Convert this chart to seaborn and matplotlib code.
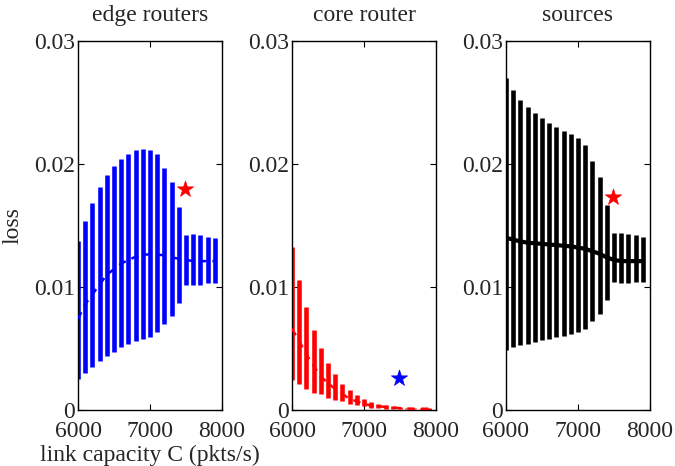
import numpy as np
import pandas as pd
import matplotlib
matplotlib.use("Agg")
import matplotlib.pyplot as plt
import seaborn as sns

sns.set_style("white")
plt.rcParams['font.family'] = ['Liberation Serif', 'DejaVu Serif']
plt.rcParams['mathtext.fontset'] = 'stix'

capacity = [6000, 6100, 6200, 6300, 6400, 6500, 6600, 6700, 6800, 6900,
            7000, 7100, 7200, 7300, 7400, 7500, 7600, 7700, 7800, 7900]

edge_mean = [0.0074, 0.0086, 0.0094, 0.0102, 0.0110, 0.01145, 0.0119, 0.0122, 0.01245, 0.0126,
             0.01267, 0.0126, 0.0126, 0.0124, 0.0123, 0.0122, 0.0121, 0.0121, 0.0121, 0.0121]
edge_lo = [0.0025, 0.0030, 0.0035, 0.0040, 0.0044, 0.0047, 0.0051, 0.0054, 0.0056, 0.0058,
           0.0059, 0.0063, 0.0070, 0.0076, 0.0087, 0.0102, 0.0102, 0.0102, 0.0103, 0.0103]
edge_hi = [0.01375, 0.0154, 0.0168, 0.0181, 0.0191, 0.0198, 0.0204, 0.0208, 0.0211, 0.0212,
           0.0211, 0.0208, 0.0197, 0.0185, 0.0165, 0.0142, 0.0143, 0.0142, 0.0141, 0.0140]

core_mean = [0.0066, 0.0056, 0.0045, 0.0036, 0.0027, 0.0022, 0.0017, 0.0013, 0.0009, 0.0007,
             0.0005, 0.00035, 0.0003, 0.00025, 0.0002, 0.00015, 0.00012, 0.0001, 0.0001, 0.0001]
core_lo = [0.0024, 0.0021, 0.0017, 0.0014, 0.0013, 0.0010, 0.0008, 0.0007, 0.0005, 0.0004,
           0.0003, 0.0002, 0.00016, 0.0001, 0.00008, 0.00005, 0.00004, 0.00004, 0.00003, 0.00003]
core_hi = [0.01325, 0.0106, 0.0084, 0.0065, 0.0050, 0.0038, 0.0029, 0.0021, 0.0016, 0.0012,
           0.0009, 0.00065, 0.0005, 0.00043, 0.0003, 0.00027, 0.0002, 0.0002, 0.00013, 0.00018]

src_mean = [0.0140, 0.01385, 0.0137, 0.0136, 0.01355, 0.0135, 0.01345, 0.0134, 0.01335, 0.0133,
            0.0132, 0.0131, 0.0129, 0.0127, 0.0124, 0.0122, 0.0121, 0.0121, 0.0121, 0.0121]
src_lo = [0.0049, 0.0051, 0.0053, 0.0054, 0.0055, 0.0057, 0.0058, 0.0059, 0.0060, 0.0062,
          0.0063, 0.0066, 0.0072, 0.0078, 0.0089, 0.0104, 0.0103, 0.0103, 0.0104, 0.0104]
src_hi = [0.0270, 0.0260, 0.0252, 0.0246, 0.0241, 0.0237, 0.0233, 0.0230, 0.0227, 0.0224,
          0.0221, 0.0215, 0.0202, 0.0189, 0.0167, 0.0144, 0.0144, 0.0143, 0.0142, 0.0141]

titles = ["edge routers", "core router", "sources"]
colors = ["#0000ff", "#ff0000", "#000000"]
star_colors = ["#ff0000", "#0000ff", "#ff0000"]
star_x = [7480, 7490, 7490]
star_y = [0.0180, 0.0026, 0.0173]
line_styles = [(0, (3, 2.5)), (0, (3, 2.5)), "-"]
line_widths = [1.8, 1.8, 3.0]

yticks = [0, 0.01, 0.02, 0.03]
yticklabels = ["0", "0.01", "0.02", "0.03"]
xticks = [6000, 7000, 8000]
xticklabels = ["6000", "7000", "8000"]

means = [edge_mean, core_mean, src_mean]
los = [edge_lo, core_lo, src_lo]
his = [edge_hi, core_hi, src_hi]

fig = plt.figure(figsize=(6.75, 4.66), dpi=100)
lefts = [0.1156, 0.4326, 0.7496]
bottom, height, width = 0.1202, 0.792, 0.2133
FS = 17

for i in range(3):
    ax = fig.add_axes([lefts[i], bottom, width, height])
    df = pd.DataFrame({"C": capacity, "mean": means[i], "lo": los[i], "hi": his[i]})
    ax.vlines(df["C"], df["lo"], df["hi"], colors=colors[i], linewidth=3.3, zorder=2)
    sns.lineplot(data=df, x="C", y="mean", ax=ax, color=colors[i],
                 linestyle=line_styles[i], linewidth=line_widths[i], zorder=3)
    sdf = pd.DataFrame({"x": [star_x[i]], "y": [star_y[i]]})
    sns.scatterplot(data=sdf, x="x", y="y", ax=ax, marker="*", s=150,
                    color=star_colors[i], edgecolor=star_colors[i], linewidth=0.5, zorder=4)
    ax.set_xlim(6000, 8000)
    ax.set_ylim(0, 0.03)
    ax.set_xticks(xticks)
    ax.set_xticklabels(xticklabels, fontsize=FS)
    ax.set_yticks(yticks)
    ax.set_yticklabels(yticklabels, fontsize=FS)
    ax.tick_params(direction="in", length=4, width=0.8, top=True, right=True,
                   bottom=True, left=True, color="black")
    ax.tick_params(axis="x", pad=8)
    ax.tick_params(axis="y", pad=2)
    for s in ax.spines.values():
        s.set_visible(True)
        s.set_color("black")
        s.set_linewidth(1.0)
    ax.set_title(titles[i], fontsize=FS, pad=14)
    ax.set_xlabel("")
    ax.set_ylabel("")
    if i == 0:
        ax.set_xlabel("link capacity C (pkts/s)", fontsize=FS, labelpad=2)
        ax.set_ylabel("loss", fontsize=FS, labelpad=8)

fig.savefig("out.png", dpi=100)
